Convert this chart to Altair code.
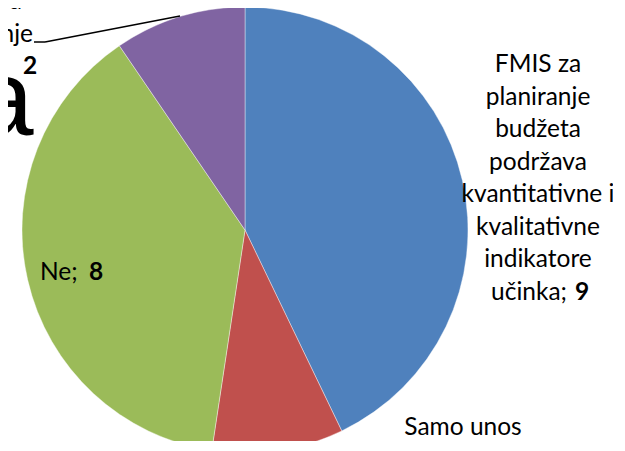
import altair as alt
import pandas as pd

# ---- data ----
categories = [
    "FMIS za planiranje budžeta podržava kvantitativne i kvalitativne indikatore učinka",
    "Samo unos",
    "Ne",
    "FMIS djelimično podržava indikatore u planiranju",
]
values = [9, 2, 8, 2]
slice_order = [0, 1, 2, 3]
colors = ["#4F81BD", "#C0504D", "#9BBB59", "#8064A2"]

fmis_lines = ["FMIS za", "planiranje", "budžeta", "podržava",
              "kvantitativne i", "kvalitativne", "indikatore"]
fmis_last = "učinka;"
ne_label = "Ne;"
samo_label = "Samo unos"
purple_lines = ["djelimično podržava", "indikatore za planiranje", "u planiranju;"]

df = pd.DataFrame({"category": categories, "value": values, "order": slice_order})

W, H = 605, 433
CX, CY, R = 237, 222, 223
FONT = "Lato"
FS = 24.5
LH = 32.5

pie = alt.Chart(df).mark_arc(radius=R, stroke="white", strokeWidth=0.4).encode(
    theta=alt.Theta("value:Q", stack=True),
    color=alt.Color("category:N", scale=alt.Scale(domain=categories, range=colors), legend=None),
    order=alt.Order("order:Q"),
    x=alt.value(CX),
    y=alt.value(CY),
)


def txt(text, x, y, align="center", bold=False, size=FS, font=FONT):
    return alt.Chart(alt.Data(values=[{"t": text}])).mark_text(
        align=align, baseline="alphabetic", font=font, fontSize=size,
        fontWeight="bold" if bold else "normal", lineBreak="\n",
        lineHeight=LH, color="black",
    ).encode(x=alt.value(x), y=alt.value(y), text="t:N")


layers = [
    # big background letter from the slide title
    txt("a", 25.5, 127, align="right", size=108, font="Liberation Sans"),
    pie,
    # FMIS label
    txt("\n".join(fmis_lines), 530, 64),
    txt(fmis_last, 559, 64 + 7 * LH, align="right"),
    txt(str(values[0]), 567, 64 + 7 * LH, align="left", bold=True),
    # Ne label
    txt(ne_label, 32, 272, align="left"),
    txt(str(values[2]), 81, 272, align="left", bold=True),
    # Samo unos label
    txt(samo_label, 455, 427),
    # purple label (cut off at the left edge)
    txt(purple_lines[0], 14, 1, align="right"),
    txt(purple_lines[1], 25, 33.5, align="right"),
    txt(purple_lines[2], 0, 66, align="right"),
    txt(str(values[3]), 15, 66, align="left", bold=True),
    # leader line
    alt.Chart(alt.Data(values=[{}])).mark_rule(color="black", strokeWidth=1.5).encode(
        x=alt.value(26), x2=alt.value(37), y=alt.value(34), y2=alt.value(34)),
    alt.Chart(alt.Data(values=[{}])).mark_rule(color="black", strokeWidth=1.5).encode(
        x=alt.value(37), x2=alt.value(172), y=alt.value(34), y2=alt.value(8)),
]

chart = alt.layer(*layers).properties(
    width=W, height=H, autosize=alt.AutoSizeParams(type="none"), padding=0,
).configure_view(stroke=None)

chart.save("out.html", embed_options={"renderer": "svg", "actions": False})
